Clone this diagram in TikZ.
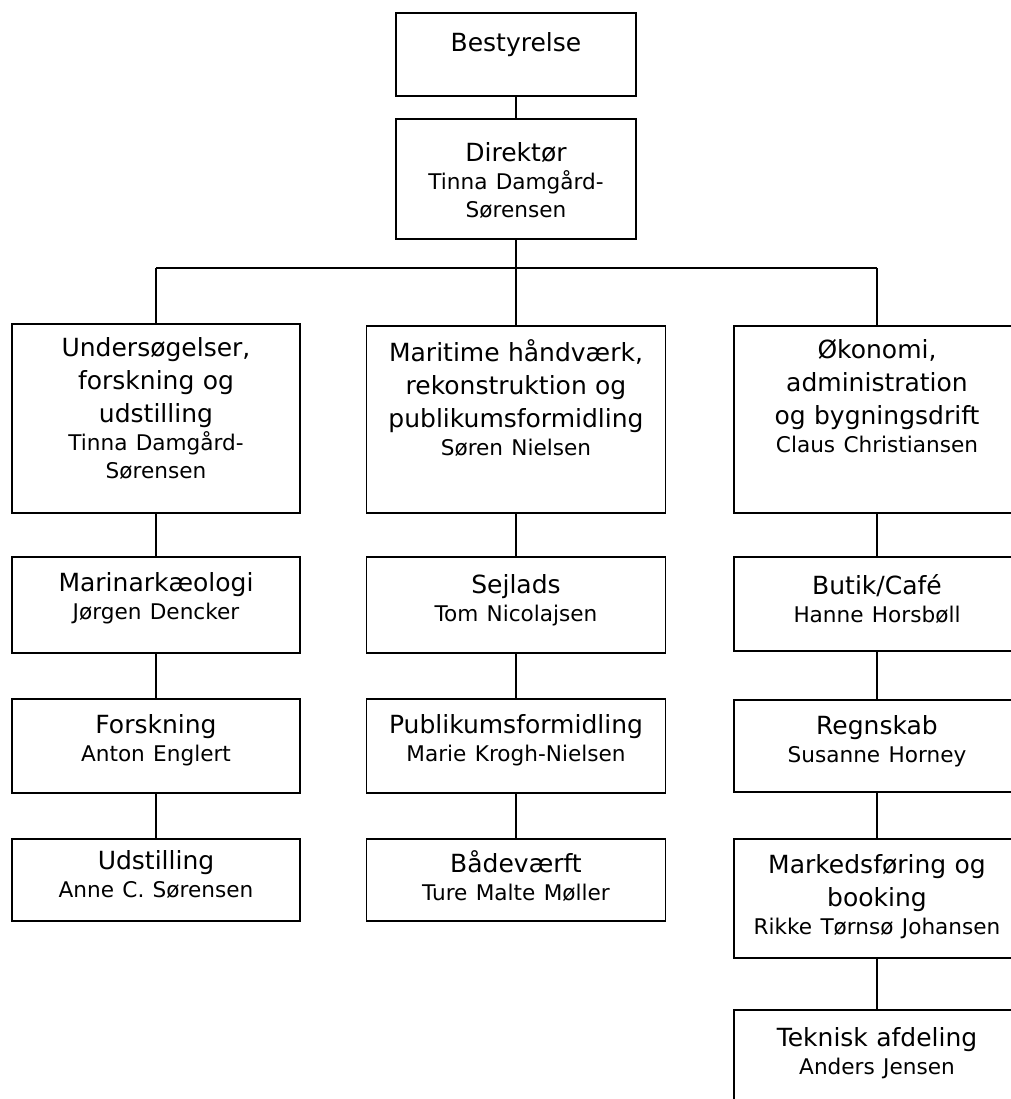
\documentclass[tikz,border=0pt]{standalone}
\usepackage{fontspec}
\setmainfont{DejaVu Sans}
\usetikzlibrary{positioning}
\newcommand{\namefont}{\fontsize{10.8}{14}\selectfont}
\newcommand{\person}[1]{\par{\namefont #1\par}}
\tikzset{
    unit/.style={draw, line width=0.8pt, anchor=north, inner sep=0pt},
    unittext/.style={anchor=north, align=center, inner sep=0pt, text width=138pt,
        font=\fontsize{12.5}{16.5}\selectfont},
    link/.style={line width=0.8pt}
}
\begin{document}
\begin{tikzpicture}[x=0.5pt,y=-0.5pt]
    \useasboundingbox (0,0) rectangle (1011,1099);
    \clip (0,0) rectangle (1011,1099);

    % top of the chart
    \node[unit, minimum width=120pt, minimum height=41.5pt] (best) at (516,12) {};
    \node[unittext, text width=116pt, below=10pt of best.north] {Bestyrelse};

    \node[unit, minimum width=120pt, minimum height=60pt] (dir) at (516,118) {};
    \node[unittext, text width=116pt, below=12pt of dir.north] {Direktør\person{Tinna Damgård-\\Sørensen}};

    \coordinate (busL) at (156,268);
    \coordinate (busR) at (877,268);

    % left column
    \node[unit, minimum width=144pt, minimum height=94.5pt] (und) at (156,323) {};
    \node[unittext, below=7pt of und.north] {Undersøgelser,\\forskning og\\udstilling\person{Tinna Damgård-\\Sørensen}};

    \node[unit, minimum width=144pt, minimum height=48pt] (marin) at (156,556) {};
    \node[unittext, below=8pt of marin.north] {Marinarkæologi\person{Jørgen Dencker}};

    \node[unit, minimum width=144pt, minimum height=47pt] (forsk) at (156,698) {};
    \node[unittext, below=8pt of forsk.north] {Forskning\person{Anton Englert}};

    \node[unit, minimum width=144pt, minimum height=41pt] (udst) at (156,838) {};
    \node[unittext, below=6pt of udst.north] {Udstilling\person{Anne C. Sørensen}};

    % middle column
    \node[unit, minimum width=149.5pt, minimum height=93.5pt] (mari) at (516,325) {};
    \node[unittext, text width=144pt, below=7pt of mari.north] {Maritime håndværk,\\rekonstruktion og\\publikumsformidling\person{Søren Nielsen}};

    \node[unit, minimum width=149.5pt, minimum height=48pt] (sejl) at (516,556) {};
    \node[unittext, below=9pt of sejl.north] {Sejlads\person{Tom Nicolajsen}};

    \node[unit, minimum width=149.5pt, minimum height=47pt] (publ) at (516,698) {};
    \node[unittext, below=8pt of publ.north] {Publikumsformidling\person{Marie Krogh-Nielsen}};

    \node[unit, minimum width=149.5pt, minimum height=41pt] (baad) at (516,838) {};
    \node[unittext, below=6pt of baad.north] {Bådeværft\person{Ture Malte Møller}};

    % right column
    \node[unit, minimum width=143pt, minimum height=93.5pt] (oko) at (877,325) {};
    \node[unittext, below=7pt of oko.north] {Økonomi,\\administration\\og bygningsdrift\person{Claus Christiansen}};

    \node[unit, minimum width=143pt, minimum height=47pt] (butik) at (877,556) {};
    \node[unittext, below=9pt of butik.north] {Butik/Café\person{Hanne Horsbøll}};

    \node[unit, minimum width=143pt, minimum height=46pt] (regn) at (877,699) {};
    \node[unittext, below=8pt of regn.north] {Regnskab\person{Susanne Horney}};

    \node[unit, minimum width=143pt, minimum height=59.5pt] (markb) at (877,838) {};
    \node[unittext, below=8pt of markb.north] {Markedsføring og\\booking\person{Rikke Tørnsø Johansen}};

    \node[unit, minimum width=143pt, minimum height=60pt] (tek) at (877,1009) {};
    \node[unittext, below=9pt of tek.north] {Teknisk afdeling\person{Anders Jensen}};

    % connectors
    \draw[link] (best) -- (dir);
    \draw[link] (dir.south) -- (dir.south |- busL);
    \draw[link] (busL) -- (busR);
    \draw[link] (busL) -- (und.north);
    \draw[link] (dir.south |- busL) -- (mari.north);
    \draw[link] (busR) -- (oko.north);

    \draw[link] (und) -- (marin);
    \draw[link] (marin) -- (forsk);
    \draw[link] (forsk) -- (udst);

    \draw[link] (mari) -- (sejl);
    \draw[link] (sejl) -- (publ);
    \draw[link] (publ) -- (baad);

    \draw[link] (oko) -- (butik);
    \draw[link] (butik) -- (regn);
    \draw[link] (regn) -- (markb);
    \draw[link] (markb) -- (tek);

\end{tikzpicture}
\end{document}
